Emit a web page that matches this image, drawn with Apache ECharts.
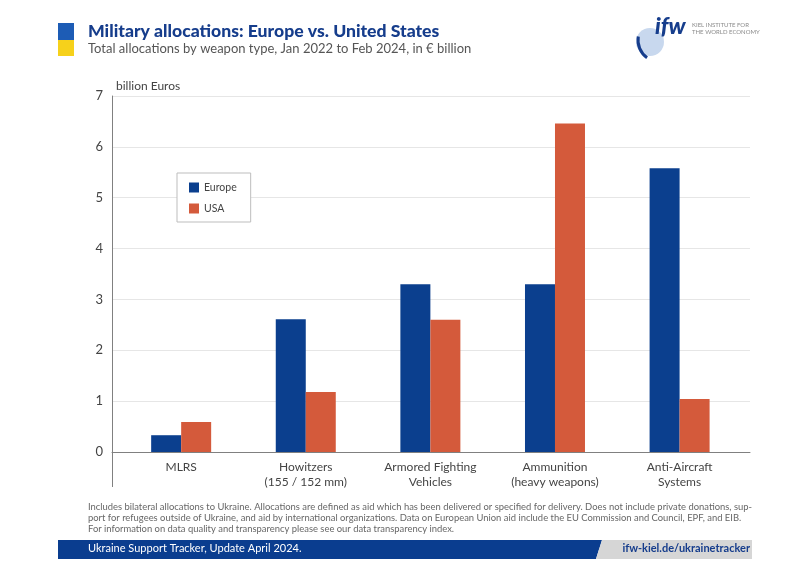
<!DOCTYPE html>
<html><head><meta charset="utf-8">
<script src="https://cdn.jsdelivr.net/npm/echarts@6/dist/echarts.min.js"></script>
<style>html,body{margin:0;padding:0;background:#fff}#c{width:800px;height:576px}</style>
</head><body><div id="c"></div>
<script>
const categories = ["MLRS", "Howitzers\n(155 / 152 mm)", "Armored Fighting\nVehicles", "Ammunition\n(heavy weapons)", "Anti-Aircraft\nSystems"];
const europe = [0.33, 2.61, 3.30, 3.30, 5.58];
const usa = [0.59, 1.18, 2.60, 6.46, 1.04];
const yTicks = [0, 1, 2, 3, 4, 5, 6, 7];
const seriesNames = ["Europe", "USA"];

const chart = echarts.init(document.getElementById('c'), null, {renderer: 'canvas'});
const FONT = 'Lato';
const toPts = arr => arr.map((v, i) => [i, v]);
const noteLines = [
 "Includes bilateral allocations to Ukraine. Allocations are defined as aid which has been delivered or specified for delivery. Does not include private donations, sup-",
 "port for refugees outside of Ukraine, and aid by international organizations. Data on European Union aid include the EU Commission and Council, EPF, and EIB.",
 "For information on data quality and transparency please see our data transparency index."
];
const noteFont = '10px Lato';
const mctx = document.createElement('canvas').getContext('2d');
mctx.font = noteFont;
const noteScale = 664 / mctx.measureText(noteLines[0]).width;

chart.setOption({
  animation: false,
  textStyle: {fontFamily: FONT},
  grid: {left: 112, right: 50, top: 96, bottom: 124, containLabel: false},
  xAxis: {
    type: 'value', min: -0.555, max: 4.565,
    axisLine: {show: true, onZero: false, lineStyle: {color: '#808080', width: 1}},
    axisTick: {show: false},
    splitLine: {show: false},
    axisLabel: {
      customValues: [0, 1, 2, 3, 4],
      formatter: v => categories[Math.round(v)] || '',
      color: '#444', fontSize: 12, lineHeight: 15, margin: 8, fontFamily: FONT
    }
  },
  yAxis: {
    type: 'value', min: 0, max: 7, interval: 1,
    name: 'billion Euros', nameLocation: 'end', nameGap: 4,
    nameTextStyle: {align: 'left', color: '#444', fontSize: 12, padding: [0, 0, 0, 4], fontFamily: FONT},
    axisLine: {show: true, onZero: false, lineStyle: {color: '#808080', width: 1}},
    axisTick: {show: false},
    axisLabel: {color: '#444', fontSize: 13, margin: 9, formatter: v => yTicks.includes(v) ? String(v) : ''},
    splitLine: {show: true, lineStyle: {color: '#e6e6e6', width: 1}}
  },
  legend: {
    orient: 'vertical', left: 177, top: 173,
    data: seriesNames,
    backgroundColor: '#fff', borderColor: '#bdbdbd', borderWidth: 1,
    padding: [9, 14, 8, 12], itemWidth: 10, itemHeight: 10, itemGap: 10,
    icon: 'rect',
    textStyle: {color: '#444', fontSize: 10.5, fontFamily: FONT}
  },
  series: [
    {name: seriesNames[0], type: 'bar', data: toPts(europe), barWidth: 30, barGap: '0%',
     itemStyle: {color: '#0b3f8e'}},
    {name: seriesNames[1], type: 'bar', data: toPts(usa), barWidth: 30, barGap: '0%',
     itemStyle: {color: '#d45a3b'}}
  ],
  graphic: [
    // flag
    {type: 'rect', shape: {x: 58, y: 23, width: 16, height: 17}, style: {fill: '#1d5cb5'}},
    {type: 'rect', shape: {x: 58, y: 40, width: 16, height: 16}, style: {fill: '#f6d11b'}},
    {type: 'text', left: 88, top: 22, style: {text: 'Military allocations: Europe vs. United States', fill: '#163d8c', font: '900 17.6px Lato'}},
    {type: 'text', left: 88, top: 42, style: {text: 'Total allocations by weapon type, Jan 2022 to Feb 2024, in € billion', fill: '#555', font: '13px Lato'}},
    // logo
    {type: 'circle', shape: {cx: 650, cy: 42, r: 14}, style: {fill: '#c8d8ee'}},
    {type: 'arc', shape: {cx: 660, cy: 40, r: 22, startAngle: 2.2, endAngle: 3.3}, style: {stroke: '#163d8c', lineWidth: 3, fill: null}},
    {type: 'text', left: 655, top: 15, style: {text: 'ifw', fill: '#163d8c', font: 'italic 900 23px Lato'}},
    {type: 'text', left: 692, top: 22, style: {text: 'KIEL INSTITUTE FOR\nTHE WORLD ECONOMY', fill: '#8a8a8a', font: '6px Lato', lineHeight: 7}},
    // y-axis extension below baseline
    {type: 'line', shape: {x1: 112.5, y1: 452, x2: 112.5, y2: 487}, style: {stroke: '#808080', lineWidth: 1}},
    // note
    {type: 'text', x: 88, y: 501, scaleX: noteScale, style: {text: noteLines.join('\n'), fill: '#666', font: noteFont, lineHeight: 11}},
    // footer
    {type: 'polygon', shape: {points: [[58, 540], [602, 540], [596, 559], [58, 559]]}, style: {fill: '#0a3d8f'}},
    {type: 'polygon', shape: {points: [[602, 540], [752, 540], [752, 559], [596, 559]]}, style: {fill: '#d6d6d6'}},
    {type: 'text', left: 88, top: 543, style: {text: 'Ukraine Support Tracker, Update April 2024.', fill: '#fff', font: '11px Lato'}},
    {type: 'text', right: 50, top: 543, style: {text: 'ifw-kiel.de/ukrainetracker', fill: '#163d8c', font: 'bold 11px Lato'}}
  ]
});
</script></body></html>
